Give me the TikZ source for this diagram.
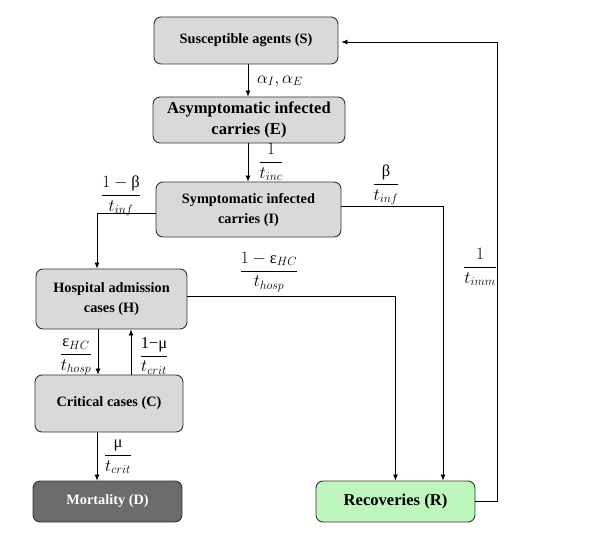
\documentclass[tikz,border=0pt]{standalone}
\usepackage{fontspec}
\setmainfont{Liberation Serif}
\usetikzlibrary{arrows.meta}
\DeclareMathSizes{16.5}{16.5}{12.5}{9}
\definecolor{boxgray}{HTML}{D9D9D9}
\definecolor{darkbox}{HTML}{6B6B6B}
\definecolor{greenbox}{HTML}{BEF6BE}
\begin{document}
\begin{tikzpicture}[x=1pt,y=-1pt,
 box/.style={draw=black!80, line width=0.9pt, rounded corners=7pt, fill=boxgray, align=center,
   font=\bfseries\fontsize{14.3}{20}\selectfont, inner sep=0pt},
 bigbox/.style={box, font=\bfseries\fontsize{16.6}{21.5}\selectfont},
 arr/.style={-{Latex[length=6pt,width=5pt]}, line width=0.8pt},
 lab/.style={inner sep=0pt, font=\fontsize{16.5}{18}\selectfont}]
\useasboundingbox (0,0) rectangle (592,545);
% nodes
\node[box, minimum width=184pt, minimum height=47pt] (S) at (246,40.5) {Susceptible agents (S)};
\node[bigbox, minimum width=192pt, minimum height=46pt] (E) at (249,120) {Asymptomatic infected\\carries (E)};
\node[box, minimum width=185pt, minimum height=55pt] (I) at (248.5,209.5) {Symptomatic infected\\carries (I)};
\node[box, minimum width=151pt, minimum height=60pt] (H) at (111.5,299) {Hospital admission\\cases (H)};
\node[box, minimum width=148pt, minimum height=57pt] (C) at (109,403.5) {Critical cases (C)};
\node[box, fill=darkbox, text=white, minimum width=149pt, minimum height=41pt] (D) at (107.5,501.5) {Mortality (D)};
\node[bigbox, fill=greenbox, minimum width=159pt, minimum height=41pt] (R) at (395.5,501.5) {Recoveries (R)};
% connectors
\draw[arr] ([xshift=2]S.south) -- ([xshift=2]S.south |- E.north);
\draw[arr] ([xshift=-1]E.south) -- ([xshift=-1]E.south |- I.north);
\draw[arr] ([yshift=-3.5]I.west) -| ([xshift=-14.5]H.north);
\draw[arr] ([yshift=3.5]I.east) -| ([xshift=47.5]R.north);
\draw[arr] ([yshift=3]H.east) -| (R.north);
\draw[arr] ([xshift=-13.5]H.south) -- ([xshift=-13.5]H.south |- C.north);
\draw[arr] ([xshift=22]C.north) -- ([xshift=22]C.north |- H.south);
\draw[arr] ([xshift=-12]C.south) -- ([xshift=-12]C.south |- D.north);
\draw[arr] (R.east) -- ++(22,0) |- ([xshift=3,yshift=-1.5]S.east);
% labels
\node[lab] (lSE) at (280,81) {$\alpha_I,\alpha_E$};
\node[lab] (lEI) at (271,162) {$\displaystyle\frac{1}{t_{inc}}$};
\node[lab] (lIH) at (121,196) {$\displaystyle\frac{1-\mbox{β}}{t_{inf}}$};
\node[lab] (lIR) at (386,185) {$\displaystyle\frac{\mbox{β}}{t_{inf}}$};
\node[lab] (lHR) at (269,272) {$\displaystyle\frac{1-\mbox{ε}_{HC}}{t_{hosp}}$};
\node[lab] (lRS) at (480,267) {$\displaystyle\frac{1}{t_{imm}}$};
\node[lab] (lHC) at (76,357) {$\displaystyle\frac{\mbox{ε}_{HC}}{t_{hosp}}$};
\node[lab] (lCH) at (154,356) {$\displaystyle\frac{\mbox{1−μ}}{t_{crit}}$};
\node[lab] (lCD) at (118,457) {$\displaystyle\frac{\mbox{μ}}{t_{crit}}$};
\end{tikzpicture}
\end{document}
